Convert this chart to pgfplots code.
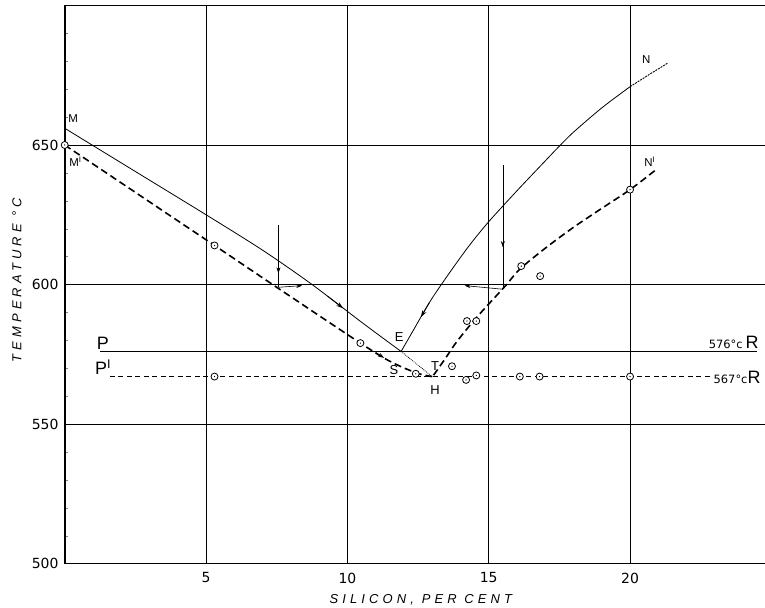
\documentclass[border=0pt]{standalone}
\usepackage{pgfplots}
\pgfplotsset{compat=1.18}
\usepackage{fontspec}
\setmainfont{Liberation Sans}
\newfontfamily\tickfont{DejaVu Sans}
\newfontfamily\lblfont[LetterSpace=32]{Liberation Sans}
\usetikzlibrary{arrows.meta}
\pgfdeclareplotmark{odot}{%
  \pgfpathcircle{\pgfpointorigin}{\pgfplotmarksize}%
  \pgfsetfillcolor{white}\pgfusepathqfillstroke
  \pgfpathcircle{\pgfpointorigin}{0.7pt}%
  \pgfsetfillcolor{black}\pgfusepathqfill}
\begin{document}
\begin{tikzpicture}
\begin{axis}[
  scale only axis, width=706.7bp, height=558bp,
  xmin=0, xmax=25, ymin=500, ymax=700,
  xtick={5,10,15,20}, ytick={500,550,600,650,700},
  yticklabels={500,550,600,650,{}},
  minor y tick num=4,
  xtick pos=bottom, ytick pos=left,
  tick align=inside, major tick length=0pt, minor tick length=3bp,
  grid=major,
  major grid style={black, line width=0.8bp},
  axis line style={line width=1.8bp},
  tick label style={font=\tickfont\fontsize{14}{15}\selectfont},
  /pgf/number format/assume math mode=true,
  xticklabel style={anchor=north, inner sep=0pt, yshift=-9bp},
  yticklabel style={anchor=east, inner sep=0pt, xshift=-6bp},
  clip=false,
  mark size=3.5bp,
]
\coordinate (ll) at (rel axis cs:0,0);
% liquidus M-E (solid)
\addplot[black, line width=0.8bp, smooth] coordinates {(0,656) (2.5,640.5) (5,625) (7,612.3) (8.75,600) (10.5,586.5) (11.9,576)};
\addplot[black, line width=0.8bp, densely dotted] coordinates {(11.9,576) (13.0,567)};
% liquidus M'-H (dashed)
\addplot[black, line width=1.6bp, dash pattern=on 7bp off 4bp, smooth] coordinates {(0,650) (2.65,632) (5.3,614) (7.56,598.6) (10.46,579) (11.5,572.5) (12.44,568.3) (13.0,567)};
% liquidus E-N (solid)
\addplot[black, line width=0.8bp, smooth] coordinates {(11.9,576) (12.3,583) (12.93,594) (13.6,604) (14.3,613.8) (15,622.5) (16,633.6) (17,644.3) (17.5,649.6) (18,654.6) (19,663.3) (20,670.9)};
\addplot[black, line width=0.9bp, dash pattern=on 2bp off 1bp] coordinates {(20,670.9) (20.7,675.4) (21.34,679.4)};
% liquidus H-N' (dashed)
\addplot[black, line width=1.6bp, dash pattern=on 7bp off 4bp, smooth] coordinates {(13.05,567.5) (13.5,574) (13.87,579.5) (14.58,588.3) (15.58,599.4) (16.1,605.5) (17,613) (18,620.5) (19,627.3) (20,634) (20.9,641)};
% eutectic lines
\addplot[black, line width=1.2bp] coordinates {(1.26,576) (24.5,576)};
\addplot[black, line width=1.3bp, dash pattern=on 5bp off 3.5bp] coordinates {(1.6,567) (22.9,567)};
% observed points
\addplot[only marks, mark=odot, mark options={line width=0.8bp}] coordinates {(0,650) (5.3,614) (10.46,579) (12.42,568) (13.7,570.7) (14.23,586.9) (14.56,586.9) (16.15,606.6) (16.82,603) (20,634)};
\addplot[only marks, mark=odot, mark options={line width=0.8bp}] coordinates {(5.3,567) (14.2,565.8) (14.56,567.4) (16.1,567) (16.8,567) (20,567)};
% arrows
\draw[line width=0.6bp] (axis cs:7.56,621.3) -- (axis cs:7.56,599);
\draw[line width=0.6bp, -{Stealth[length=6bp,width=4bp]}] (axis cs:7.56,612) -- (axis cs:7.56,604);
\draw[line width=0.6bp, -{Stealth[length=6bp,width=4bp]}] (axis cs:7.56,599) -- (axis cs:8.4,599.6);
\draw[line width=0.6bp] (axis cs:15.5,642.8) -- (axis cs:15.5,598.3);
\draw[line width=0.6bp, -{Stealth[length=6bp,width=4bp]}] (axis cs:15.5,622) -- (axis cs:15.5,613.4);
\draw[line width=0.6bp, -{Stealth[length=6bp,width=4bp]}] (axis cs:15.5,598.3) -- (axis cs:14.15,599.6);
\draw[line width=0.8bp, -{Stealth[length=7bp,width=4.5bp]}] (axis cs:9.3,595.8) -- (axis cs:9.85,591.5);
\draw[line width=0.8bp, -{Stealth[length=7bp,width=4.5bp]}] (axis cs:12.9,593.5) -- (axis cs:12.6,588.3);
\draw[line width=0.8bp, -{Stealth[length=6bp,width=4bp]}] (axis cs:11.0,575.6) -- (axis cs:11.3,573.7);
% letters
\node[font=\fontsize{11.5}{12}\selectfont] at (axis cs:0.3,659.5) {M};
\node[font=\fontsize{11.5}{12}\selectfont] at (axis cs:0.38,643.9) {M\textsuperscript{I}};
\node[font=\fontsize{13}{14}\selectfont] at (axis cs:11.83,581) {E};
\node[font=\fontsize{13}{14}\selectfont] at (axis cs:11.65,569.5) {S};
\node[font=\fontsize{13}{14}\selectfont] at (axis cs:13.1,570.6) {T};
\node[font=\fontsize{13}{14}\selectfont] at (axis cs:13.1,562.3) {H};
\node[font=\fontsize{11.5}{12}\selectfont] at (axis cs:20.57,680.5) {N};
\node[font=\fontsize{11.5}{12}\selectfont] at (axis cs:20.7,644) {N\textsuperscript{I}};
\node[font=\fontsize{18}{19}\selectfont, anchor=south west, inner sep=0pt] at (axis cs:1.13,576.6) {P};
\node[font=\fontsize{18}{19}\selectfont, anchor=south west, inner sep=0pt] at (axis cs:1.07,567.6) {P\textsuperscript{I}};
\node[anchor=south east, inner sep=0pt] at (axis cs:24.55,577) {{\tickfont\fontsize{11.5}{12}\selectfont 576°c} {\fontsize{18}{19}\selectfont R}};
\node[anchor=west, inner sep=0pt] at (axis cs:22.95,566.6) {{\tickfont\fontsize{11.5}{12}\selectfont 567°c}{\fontsize{18}{19}\selectfont R}};
% axis titles
\node[rotate=90, font=\lblfont\itshape\fontsize{13}{15}\selectfont] at (axis cs:0,601.6) [yshift=47.7bp] {TEMPERATURE °C};
\node[font=\lblfont\itshape\fontsize{13}{15}\selectfont] at (axis cs:12.6,500) [yshift=-36.5bp] {SILICON, PER CENT};
\end{axis}
\pgfresetboundingbox
\path[use as bounding box] ([shift={(-64.7bp,-44.5bp)}]ll) rectangle ++(765bp,608bp);
\end{tikzpicture}
\end{document}
